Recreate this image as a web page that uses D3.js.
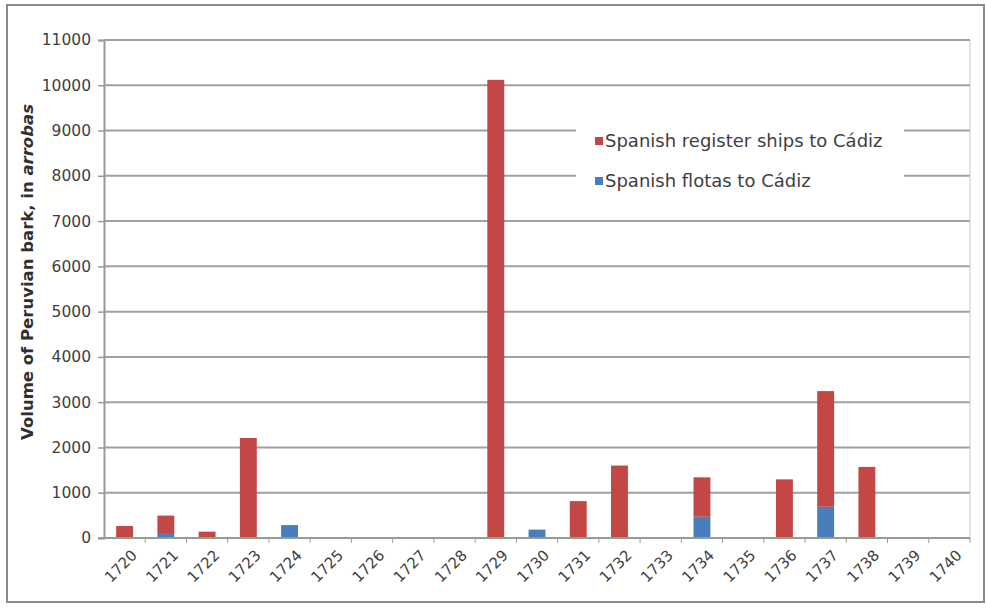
<!DOCTYPE html>
<html>
<head>
<meta charset="utf-8">
<script src="https://cdn.jsdelivr.net/npm/d3@7"></script>
<style>
  html, body { margin: 0; padding: 0; background: #fff; }
  svg { display: block; }
</style>
</head>
<body>
<svg id="chart" width="986" height="610"></svg>
<script>
// Years shipped
const years = ["1720","1721","1722","1723","1724","1725","1726","1727","1728","1729","1730",
               "1731","1732","1733","1734","1735","1736","1737","1738","1739","1740"];
// Spanish flotas to Cádiz (arrobas)
const flotas = [0, 90, 0, 0, 285, 0, 0, 0, 0, 0, 185, 0, 0, 0, 470, 0, 0, 690, 0, 0, 0];
// Spanish register ships to Cádiz (arrobas)
const register = [265, 405, 140, 2210, 0, 0, 0, 0, 0, 10120, 0, 815, 1600, 0, 870, 0, 1295, 2555, 1570, 0, 0];
// Value axis ticks
const yTicks = [0,1000,2000,3000,4000,5000,6000,7000,8000,9000,10000,11000];

const seriesNames = ["Spanish flotas to Cádiz", "Spanish register ships to Cádiz"];
const colors = { flotas: "#4A7EBB", register: "#C34845" };
const FONT = "Verdana, 'DejaVu Sans', sans-serif";

const svg = d3.select("#chart");
const W = 986, H = 610;
const m = { left: 104, right: 16, top: 40, bottom: 72 };
const plotW = W - m.left - m.right, plotH = H - m.top - m.bottom;

// Outer frame
svg.append("rect").attr("x", 7).attr("y", 5).attr("width", 977).attr("height", 597)
  .attr("fill", "#fff").attr("stroke", "#8a8a8a").attr("stroke-width", 2);

const g = svg.append("g").attr("transform", `translate(${m.left},${m.top})`);

const x = d3.scaleBand().domain(years).range([0, plotW]).paddingInner(0.59).paddingOuter(0.295);
const xb = d3.scaleBand().domain(years).range([0, plotW]);
const y = d3.scaleLinear().domain([0, 11000]).range([plotH, 0]);

// Gridlines
g.append("g").selectAll("line").data(yTicks.filter(d => d > 0)).join("line")
  .attr("x1", 0).attr("x2", plotW)
  .attr("y1", d => y(d)).attr("y2", d => y(d))
  .attr("stroke", "#a0a0a0").attr("stroke-width", 2);

// Right plot edge
g.append("line").attr("x1", plotW).attr("x2", plotW).attr("y1", 0).attr("y2", plotH)
  .attr("stroke", "#c8c8c8").attr("stroke-width", 1);

// Legend background (sits over the gridlines, under the bars)
const lg = svg.append("g").attr("transform", "translate(576,106)");
lg.append("rect").attr("x", 0).attr("y", 0).attr("width", 328).attr("height", 94).attr("fill", "#fff");

// Stacked bars
const rows = years.map((yr, i) => ({ year: yr, flotas: flotas[i], register: register[i] }));
const stack = d3.stack().keys(["flotas", "register"])(rows);
g.append("g").selectAll("g").data(stack).join("g")
  .attr("fill", d => colors[d.key])
  .selectAll("rect").data(d => d.filter(p => p[1] - p[0] > 0)).join("rect")
  .attr("x", d => x(d.data.year))
  .attr("width", x.bandwidth())
  .attr("y", d => y(d[1]))
  .attr("height", d => y(d[0]) - y(d[1]));

// Y axis
const yAxis = g.append("g").call(d3.axisLeft(y).tickValues(yTicks).tickSize(6).tickPadding(7).tickFormat(d3.format("d")));
yAxis.select(".domain").attr("stroke", "#999").attr("stroke-width", 2);
yAxis.selectAll(".tick line").attr("stroke", "#999").attr("stroke-width", 1.5);
yAxis.selectAll("text").attr("font-family", FONT)
  .attr("font-size", 15.5).attr("fill", "#404040");

// X axis with ticks between categories
const xAxis = g.append("g").attr("transform", `translate(0,${plotH})`);
xAxis.append("line").attr("x1", -6).attr("x2", plotW).attr("y1", 0).attr("y2", 0)
  .attr("stroke", "#8fa08f").attr("stroke-width", 2);
xAxis.selectAll("line.tk").data(years).join("line").attr("class", "tk")
  .attr("x1", (d, i) => xb.step() * (i + 1)).attr("x2", (d, i) => xb.step() * (i + 1))
  .attr("y1", 0).attr("y2", 5).attr("stroke", "#999").attr("stroke-width", 1);
xAxis.selectAll("text").data(years).join("text")
  .attr("transform", d => `translate(${xb(d) + xb.bandwidth() / 2 + 7},${12}) rotate(-45)`)
  .attr("text-anchor", "end").attr("dy", "0.6em")
  .attr("font-family", FONT).attr("font-size", 15)
  .attr("fill", "#404040")
  .text(d => d);

// Y axis title
const yt = svg.append("text")
  .attr("transform", `translate(33,272) rotate(-90)`)
  .attr("text-anchor", "middle")
  .attr("font-family", FONT).attr("font-size", 16.5)
  .attr("font-weight", "bold").attr("fill", "#303030");
yt.append("tspan").text("Volume of Peruvian bark, in ");
yt.append("tspan").attr("font-style", "italic").text("arrobas");

// Legend entries
const legendItems = [
  { name: seriesNames[1], color: colors.register },
  { name: seriesNames[0], color: colors.flotas }
];
const li = lg.selectAll("g").data(legendItems).join("g")
  .attr("transform", (d, i) => `translate(19,${35 + i * 40})`);
li.append("rect").attr("x", 0).attr("y", -4).attr("width", 8).attr("height", 8).attr("fill", d => d.color);
li.append("text").attr("x", 10).attr("dy", "0.36em")
  .attr("font-family", FONT).attr("font-size", 18)
  .attr("fill", "#404040").text(d => d.name);
</script>
</body>
</html>
